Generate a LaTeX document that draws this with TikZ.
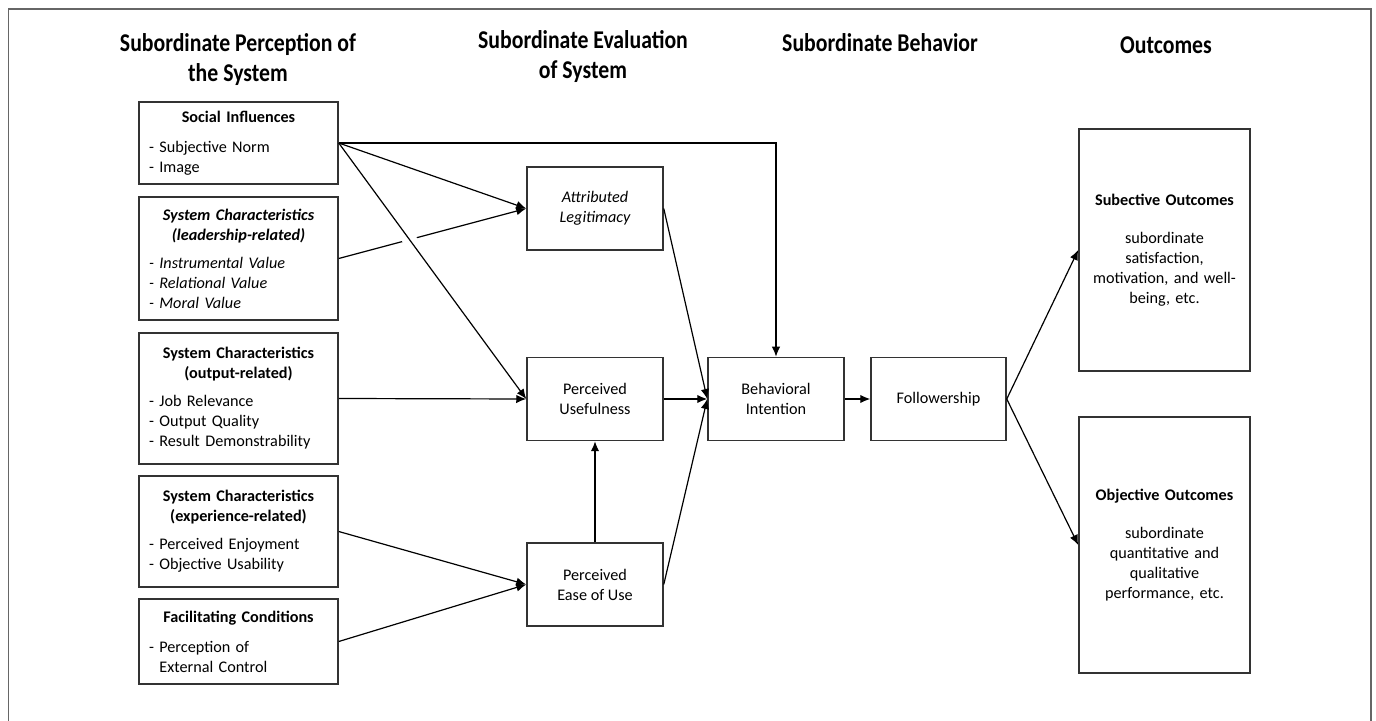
\documentclass[tikz,border=0pt]{standalone}
\usepackage{fontspec}
\setmainfont{Carlito}
\newfontfamily\headfont[FakeStretch=0.85]{Carlito}
\usetikzlibrary{arrows.meta,calc}
\definecolor{boxc}{HTML}{333333}
\definecolor{framec}{HTML}{666666}
\newcommand\bodyfnt{\fontsize{8.1}{10}\selectfont}
\newcommand\ttl[1]{\makebox[89.5pt][c]{\bfseries #1}}
\newcommand\ttli[1]{\makebox[89.5pt][c]{\bfseries\itshape #1}}
\begin{document}
\begin{tikzpicture}[x=0.5pt,y=-0.5pt,
  box/.style={draw=boxc, line width=0.75pt, inner sep=0pt, align=center, font=\bodyfnt},
  lbox/.style={box, minimum width=99.5pt, text width=89.5pt, align=left},
  mbox/.style={box, minimum width=68pt, minimum height=41.5pt},
  obox/.style={box, minimum width=85.5pt, text width=80pt},
  head/.style={font=\headfont\bfseries\fontsize{12.8}{15}\selectfont, align=center, inner sep=0pt},
  arr/.style={-{Latex[length=5pt,width=4.2pt]}, line width=0.6pt, black}]
\useasboundingbox (0,0) rectangle (1376,721);
\draw[framec, line width=0.9pt] (8.5,725) -- (8.5,9) -- (1371,9) -- (1371,725);

% headings
\node[head] (h1) at (238,60) {Subordinate Perception of\\the System};
\node[head] (h2) at (583,57) {Subordinate Evaluation\\of System};
\node[head] (h3) at (880,43) {Subordinate Behavior};
\node[head] (h4) at (1166,45) {Outcomes};

% left column
\node[lbox, minimum height=41pt] (si) at (238.5,143) {\ttl{Social Influences}\\[5pt]- Subjective Norm\\- Image};
\node[lbox, minimum height=61.5pt] (lr) at (238.5,258.5) {\ttli{System Characteristics}\\\ttli{(leadership-related)}\\[4pt]\itshape - Instrumental Value\\\itshape - Relational Value\\\itshape - Moral Value};
\node[lbox, minimum height=65.5pt] (or) at (238.5,398.5) {\ttl{System Characteristics}\\\ttl{(output-related)}\\[4pt]- Job Relevance\\- Output Quality\\- Result Demonstrability};
\node[lbox, minimum height=55.5pt] (er) at (238.5,531.5) {\ttl{System Characteristics}\\\ttl{(experience-related)}\\[4pt]- Perceived Enjoyment\\- Objective Usability};
\node[lbox, minimum height=42.5pt] (fc) at (238.5,641.5) {\ttl{Facilitating Conditions}\\[5pt]- Perception of\\\phantom{- }External Control};

% middle column
\node[mbox] (al) at (595,208.5) {\itshape Attributed\\\itshape Legitimacy};
\node[mbox] (pu) at (595,399) {Perceived\\Usefulness};
\node[mbox] (pe) at (595,584.5) {Perceived\\Ease of Use};
\node[mbox] (bi) at (776,399) {Behavioral\\Intention};
\node[mbox, minimum width=67.5pt] (fw) at (938.5,399) {Followership};

% outcomes
\node[obox, minimum height=121pt] (so) at (1164.5,250) {\textbf{Subective Outcomes}\\[9pt]subordinate\\satisfaction,\\motivation, and well-\\being, etc.};
\node[obox, minimum height=128pt] (oo) at (1164.5,545) {\textbf{Objective Outcomes}\\[9pt]subordinate\\quantitative and\\qualitative\\performance, etc.};

% connectors
\draw[arr] (si.east) -| (bi.north);
\draw[arr] (si.east) -- (al.west);
\draw[arr] (lr.east) -- (al.west);
\draw[white, line width=7pt] ($(si.east)!0.345!(pu.west)$) -- ($(si.east)!0.41!(pu.west)$);
\draw[arr] (si.east) -- (pu.west);
\draw[arr] (or.east) -- (pu.west);
\draw[arr] (er.east) -- (pe.west);
\draw[arr] (fc.east) -- (pe.west);
\draw[arr] (pe.north) -- (pu.south);
\draw[arr] (al.east) -- (bi.west);
\draw[arr] (pu.east) -- (bi.west);
\draw[arr] (pe.east) -- (bi.west);
\draw[arr] (bi.east) -- (fw.west);
\draw[arr] (fw.east) -- (so.west);
\draw[arr] (fw.east) -- (oo.west);
\end{tikzpicture}
\end{document}
